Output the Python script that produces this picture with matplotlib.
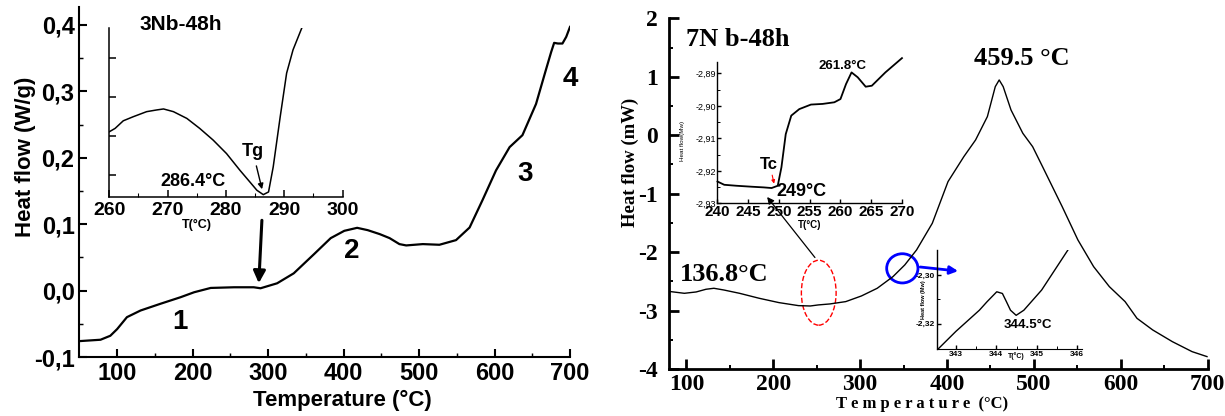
import matplotlib
matplotlib.use("Agg")
import matplotlib.pyplot as plt
from matplotlib.patches import Ellipse
import numpy as np

plt.rcParams["axes.unicode_minus"] = False

# ---- 3Nb-48h (left) ----
t3 = [51, 78, 91, 100, 113, 131, 157, 184, 202, 224, 255, 281, 290, 312, 334, 361, 383,
      401, 418, 432, 448, 461, 474, 483, 505, 527, 549, 567, 584, 602, 620, 637, 655,
      668, 675, 679, 684, 690, 695, 700]
hf3 = [-0.076, -0.074, -0.068, -0.058, -0.040, -0.030, -0.020, -0.010, -0.0025, 0.004,
       0.005, 0.005, 0.0035, 0.011, 0.026, 0.055, 0.079, 0.090, 0.0945, 0.091, 0.085,
       0.079, 0.070, 0.068, 0.070, 0.069, 0.076, 0.095, 0.136, 0.181, 0.216, 0.234,
       0.281, 0.332, 0.359, 0.373, 0.372, 0.372, 0.382, 0.397]

t3_in = [260, 261, 262.4, 264.1, 266.4, 268.1, 269.3, 271, 273.3, 275.5, 277.8, 280.1,
         282.4, 284.1, 285.3, 286.4, 287.3, 288.1, 289.3, 290.4, 291.5, 293]
hf3_in = [0.386, 0.406, 0.451, 0.475, 0.505, 0.515, 0.521, 0.505, 0.465, 0.406, 0.337,
          0.257, 0.158, 0.089, 0.040, 0.014, 0.030, 0.178, 0.475, 0.733, 0.871, 1.0]

# ---- 7Nb-48h (right) ----
t7 = [81.9, 97.7, 111.3, 122.6, 131.7, 143, 161.2, 183.8, 206.5, 229.1, 242.7, 251.8,
      265.3, 283.5, 301.6, 319.7, 337.8, 351.4, 365, 383.1, 401.2, 419.4, 432.9, 446.5,
      455.6, 460.1, 464.7, 473.7, 487.3, 498.6, 510, 532.6, 550.7, 568.8, 586.9, 605,
      618.7, 636.8, 659.4, 682.1, 699.3]
hf7 = [-2.676, -2.705, -2.682, -2.636, -2.619, -2.648, -2.705, -2.790, -2.864, -2.916,
       -2.922, -2.904, -2.887, -2.847, -2.750, -2.619, -2.420, -2.220, -1.963, -1.507,
       -0.794, -0.367, -0.082, 0.318, 0.831, 0.945, 0.831, 0.432, 0.033, -0.196, -0.538,
       -1.222, -1.792, -2.249, -2.591, -2.847, -3.133, -3.332, -3.532, -3.703, -3.788]

t7_in1 = [240, 241.1, 243.1, 245.6, 247.5, 248.8, 249.8, 250.4, 251.1, 252, 253.3, 255.2,
          257.1, 259, 260, 260.9, 261.8, 262.8, 264.1, 265.1, 267.3, 270]
hf7_in1 = [-2.9233, -2.9243, -2.9246, -2.9249, -2.9251, -2.9253, -2.9246, -2.9189,
           -2.9087, -2.9030, -2.9010, -2.8996, -2.8994, -2.8989, -2.8979, -2.8933,
           -2.8897, -2.8912, -2.8941, -2.8938, -2.8897, -2.8853]

t7_in2 = [342.57, 343, 343.58, 343.77, 344.01, 344.15, 344.25, 344.35, 344.49, 344.68,
          345.12, 345.77]
hf7_in2 = [-2.3303, -2.3232, -2.3145, -2.3110, -2.3069, -2.3076, -2.3110, -2.3145,
           -2.3166, -2.3145, -2.3062, -2.2897]

yt3 = [-0.1, 0.0, 0.1, 0.2, 0.3, 0.4]
yt3_lab = ["-0,1", "0,0", "0,1", "0,2", "0,3", "0,4"]
yt7_in1 = [-2.93, -2.92, -2.91, -2.90, -2.89]
yt7_in1_lab = ["-2,93", "-2,92", "-2,91", "-2,90", "-2,89"]
yt7_in2 = [-2.32, -2.30]
yt7_in2_lab = ["-2,32", "-2,30"]

sans = "Liberation Sans"
serif = "Liberation Serif"

fig = plt.figure(figsize=(12.25, 4.16), dpi=100)


def style(ax, major=6, minor=3, width=1.5):
    for s in ["top", "right"]:
        ax.spines[s].set_visible(False)
    for s in ["left", "bottom"]:
        ax.spines[s].set_linewidth(width)
    ax.tick_params(which="major", direction="in", length=major, width=width)
    ax.tick_params(which="minor", direction="in", length=minor, width=width * 0.7)


# ================= left panel =================
ax1 = fig.add_axes([0.0648, 0.1418, 0.4005, 0.8414])
ax1.plot(t3, hf3, color="black", lw=1.6)
ax1.set_xlim(50, 700)
ax1.set_ylim(-0.1, 0.427)
style(ax1)
ax1.set_xticks([100, 200, 300, 400, 500, 600, 700])
ax1.set_xticks([150, 250, 350, 450, 550, 650], minor=True)
ax1.set_yticks(yt3)
ax1.set_yticklabels(yt3_lab)
ax1.set_yticks([-0.05, 0.05, 0.15, 0.25, 0.35], minor=True)
for lab in ax1.get_xticklabels() + ax1.get_yticklabels():
    lab.set_fontfamily(sans)
    lab.set_fontweight("bold")
    lab.set_fontsize(17)
ax1.set_xlabel("Temperature (°C)", fontsize=16, fontweight="bold", family=sans)
ax1.set_ylabel("Heat flow (W/g)", fontsize=16, fontweight="bold", family=sans)
ax1.xaxis.set_label_coords(0.537, -0.095)
ax1.yaxis.set_label_coords(-0.088, 0.571)
for txt, x, y in [("1", 183, -0.048), ("2", 411, 0.060), ("3", 640, 0.176), ("4", 701, 0.318)]:
    ax1.text(x, y, txt, fontsize=20, fontweight="bold", family=sans, ha="center", va="center")
ax1.annotate("", xy=(287.5, 0.007), xytext=(292, 0.11),
             arrowprops=dict(arrowstyle="-|>", color="black", lw=2.2, mutation_scale=18))
fig.text(0.114, 0.94, "3Nb-48h", fontsize=15, fontweight="bold", family=sans, va="center")

# inset of left panel
ax1i = fig.add_axes([0.0892, 0.5264, 0.1905, 0.4063])
ax1i.patch.set_alpha(0)
ax1i.plot(t3_in, hf3_in, color="black", lw=1.1)
ax1i.set_xlim(260, 300)
ax1i.set_ylim(0, 1)
style(ax1i, major=5, minor=3, width=1.1)
ax1i.set_xticks([260, 270, 280, 290, 300])
ax1i.set_xticks([265, 275, 285, 295], minor=True)
ax1i.set_yticks([0.13, 0.36, 0.59, 0.82])
ax1i.set_yticklabels([])
for lab in ax1i.get_xticklabels():
    lab.set_fontfamily(sans)
    lab.set_fontweight("bold")
    lab.set_fontsize(14)
ax1i.set_xlabel("T(°C)", fontsize=9, fontweight="bold", family=sans)
ax1i.xaxis.set_label_coords(0.376, -0.13)
ax1i.text(284.6, 0.27, "Tg", fontsize=13, fontweight="bold", family=sans, ha="center", va="center")
ax1i.annotate("", xy=(286.3, 0.03), xytext=(285.1, 0.2),
              arrowprops=dict(arrowstyle="-|>", color="black", lw=1.0, mutation_scale=8))
ax1i.text(274.4, 0.09, "286.4°C", fontsize=13, fontweight="bold", family=sans, ha="center", va="center")

# ================= right panel =================
ax2 = fig.add_axes([0.5461, 0.1130, 0.4397, 0.8430])
ax2.plot(t7, hf7, color="black", lw=1.0)
ax2.set_xlim(80, 700)
ax2.set_ylim(-4, 2)
style(ax2, major=7, minor=3, width=2.0)
ax2.set_xticks([100, 200, 300, 400, 500, 600, 700])
ax2.set_xticks([150, 250, 350, 450, 550, 650], minor=True)
ax2.set_yticks([-4, -3, -2, -1, 0, 1, 2])
ax2.set_yticks([-3.5, -2.5, -1.5, -0.5, 0.5, 1.5], minor=True)
for lab in ax2.get_xticklabels() + ax2.get_yticklabels():
    lab.set_fontfamily(serif)
    lab.set_fontweight("bold")
    lab.set_fontsize(17)
ax2.tick_params(axis="y", pad=8)
ax2.set_xlabel("T e m p e r a t u r e  (°C)", fontsize=12, fontweight="bold", family=serif)
ax2.set_ylabel("Heat flow (mW)", fontsize=13.5, fontweight="bold", family=serif)
ax2.xaxis.set_label_coords(0.47, -0.078)
ax2.yaxis.set_label_coords(-0.056, 0.59)
ax2.text(100, 1.63, "7N b-48h", fontsize=19, fontweight="bold", family=serif, va="center")
ax2.text(486, 1.32, "459.5 °C", fontsize=19, fontweight="bold", family=serif, ha="center", va="center")
ax2.text(92, -2.39, "136.8°C", fontsize=19, fontweight="bold", family=serif, va="center")
ax2.add_patch(Ellipse((252.4, -2.695), 40, 1.11, fill=False, ec="red", ls="--", lw=1.0))
ax2.add_patch(Ellipse((348.6, -2.278), 36, 0.5, fill=False, ec="blue", lw=2.0))
ax2.annotate("", xy=(191, -1.02), xytext=(250, -2.13),
             arrowprops=dict(arrowstyle="-|>", color="black", lw=0.9, mutation_scale=10))
ax2.annotate("", xy=(416, -2.33), xytext=(366, -2.25),
             arrowprops=dict(arrowstyle="-|>", color="blue", lw=2.0, mutation_scale=12))

# inset 1 of right panel
ax2a = fig.add_axes([0.5857, 0.5113, 0.1506, 0.3404])
ax2a.patch.set_alpha(0)
ax2a.plot(t7_in1, hf7_in1, color="black", lw=1.3, clip_on=False)
ax2a.set_xlim(240, 270)
ax2a.set_ylim(-2.93, -2.8864)
style(ax2a, major=3, minor=2, width=1.0)
ax2a.set_xticks([240, 245, 250, 255, 260, 265, 270])
ax2a.set_yticks(yt7_in1)
ax2a.set_yticklabels(yt7_in1_lab)
ax2a.set_yticks([-2.925, -2.915, -2.905, -2.895], minor=True)
ax2a.tick_params(axis="x", labelsize=11, pad=1)
ax2a.tick_params(axis="y", labelsize=6.5, pad=1)
for lab in ax2a.get_xticklabels():
    lab.set_fontfamily(sans)
    lab.set_fontweight("bold")
for lab in ax2a.get_yticklabels():
    lab.set_fontfamily(sans)
ax2a.set_xlabel("T(°C)", fontsize=7, family=sans, fontweight="bold")
ax2a.set_ylabel("Heat flow(Mw)", fontsize=4.5, family=sans)
ax2a.xaxis.set_label_coords(0.5, -0.12)
ax2a.yaxis.set_label_coords(-0.175, 0.44)
ax2a.text(260.4, -2.8876, "261.8°C", fontsize=9.5, fontweight="bold", family=sans, ha="center", va="center")
ax2a.text(248.3, -2.9182, "Tc", fontsize=12, fontweight="bold", family=sans, ha="center", va="center")
ax2a.text(253.6, -2.9263, "249°C", fontsize=13, fontweight="bold", family=sans, ha="center", va="center")
ax2a.annotate("", xy=(249.3, -2.9248), xytext=(248.8, -2.9205),
              arrowprops=dict(arrowstyle="-|>", color="red", lw=0.8, mutation_scale=5))

# inset 2 of right panel
ax2b = fig.add_axes([0.7645, 0.1603, 0.1188, 0.2387])
ax2b.patch.set_alpha(0)
ax2b.plot(t7_in2, hf7_in2, color="black", lw=1.0)
ax2b.set_xlim(342.52, 346.12)
ax2b.set_ylim(-2.3306, -2.2897)
style(ax2b, major=3, minor=2, width=1.0)
ax2b.spines["bottom"].set_linewidth(0.8)
ax2b.set_xticks([343, 344, 345, 346])
ax2b.set_xticks([343.5, 344.5, 345.5], minor=True)
ax2b.set_yticks(yt7_in2)
ax2b.set_yticklabels(yt7_in2_lab)
ax2b.set_yticks([-2.31], minor=True)
ax2b.tick_params(labelsize=6, pad=1)
for lab in ax2b.get_xticklabels() + ax2b.get_yticklabels():
    lab.set_fontfamily(sans)
    lab.set_fontweight("bold")
ax2b.text(344.5, -2.3318, "T(°C)", fontsize=5, family=sans, fontweight="bold", ha="center", va="top")
ax2b.set_ylabel("Heat flow (Mw)", fontsize=4, family=sans, fontweight="bold")
ax2b.yaxis.set_label_coords(-0.07, 0.5)
ax2b.text(344.78, -2.3207, "344.5°C", fontsize=9.5, fontweight="bold", family=sans, ha="center", va="center")

fig.savefig("out.png", dpi=100)
